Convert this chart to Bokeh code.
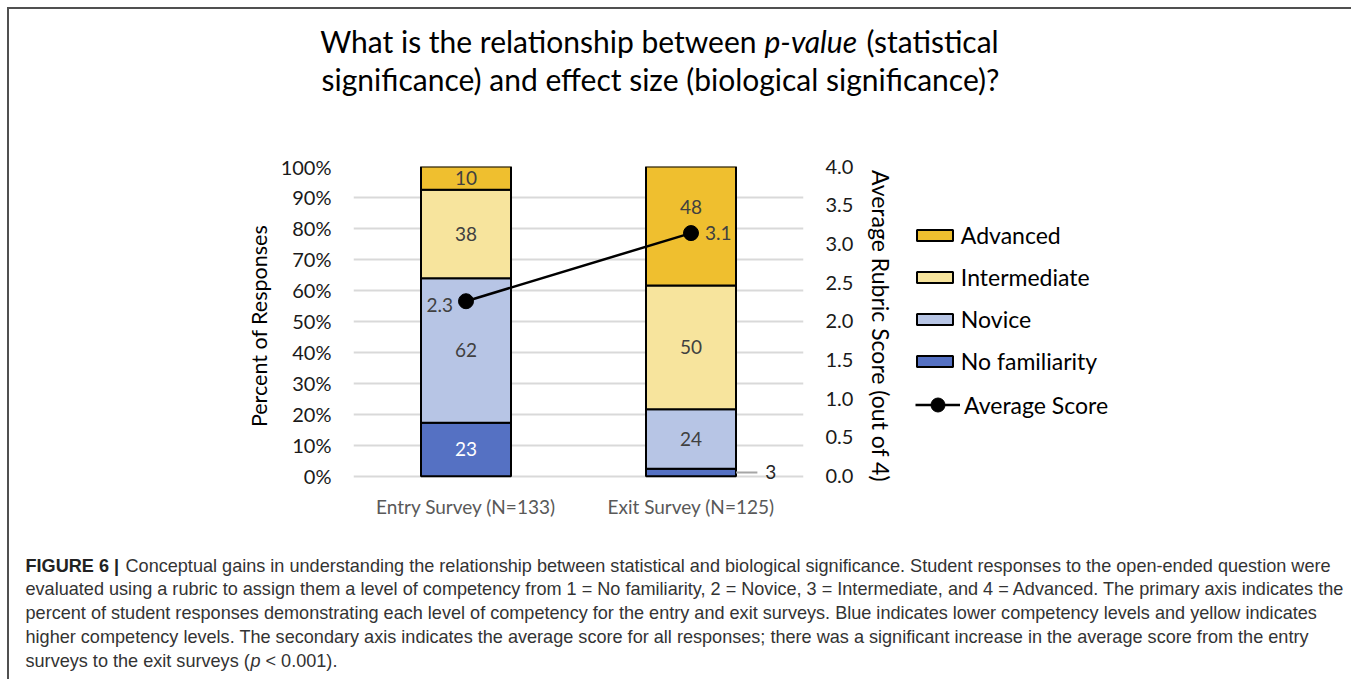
from bokeh.plotting import figure
from bokeh.models import (ColumnDataSource, Range1d, LinearAxis, FixedTicker,
                          NumeralTickFormatter, PrintfTickFormatter, Legend,
                          LegendItem, Label)
from bokeh.embed import file_html
from bokeh.resources import INLINE
from bokeh.core.properties import value

# ---------------- data ----------------
groups = ["Entry Survey (N=133)", "Exit Survey (N=125)"]
levels = ["No familiarity", "Novice", "Intermediate", "Advanced"]
no_familiarity = [23, 3]
novice = [62, 24]
intermediate = [38, 50]
advanced = [10, 48]
avg_score = [2.26, 3.14]
avg_labels = ["2.3", "3.1"]
pct_ticks = [0.0, 0.1, 0.2, 0.3, 0.4, 0.5, 0.6, 0.7, 0.8, 0.9, 1.0]
score_ticks = [0.0, 0.5, 1.0, 1.5, 2.0, 2.5, 3.0, 3.5, 4.0]

title_line1 = ["What is the relationship between", "p-value", "(statistical"]
title_line2 = "significance) and effect size (biological significance)?"
caption_bold = "FIGURE 6 |"
caption_lines = [
    "Conceptual gains in understanding the relationship between statistical and biological significance. Student responses to the open-ended question were",
    "evaluated using a rubric to assign them a level of competency from 1 = No familiarity, 2 = Novice, 3 = Intermediate, and 4 = Advanced. The primary axis indicates the",
    "percent of student responses demonstrating each level of competency for the entry and exit surveys. Blue indicates lower competency levels and yellow indicates",
    "higher competency levels. The secondary axis indicates the average score for all responses; there was a significant increase in the average score from the entry",
]
caption_last = ["surveys to the exit surveys (", "p", "< 0.001)."]

colors = {"No familiarity": "#5571C3", "Novice": "#B7C5E5",
          "Intermediate": "#F7E49D", "Advanced": "#EFBF2F"}

# ---------------- layout constants ----------------
FONT = "Lato"
CAP_FONT = "Liberation Sans"
W = 1344
ORG = 9                      # page offset of canvases (margin + border)
H_TITLE, H_MAIN, H_CAP = 111, 410, 151
FRAME_W = 450
PAD = 0.03                   # small room under 0% so outside labels are not clipped
FRAME_H = round(310 * (1 + PAD))
MAIN_TOP = ORG + H_TITLE
FRAME_TOP = 168
FRAME_BOTTOM = FRAME_TOP + FRAME_H   # page y of the frame bottom
BORDER = "2px solid #505050"


def base_fig(h):
    f = figure(width=W, height=h, x_range=Range1d(0, W), y_range=Range1d(0, h),
               x_axis_type=None, y_axis_type=None, min_border=0,
               output_backend="svg", toolbar_location=None)
    f.outline_line_color = None
    f.xgrid.visible = False
    f.ygrid.visible = False
    return f


# ---------------- title figure ----------------
tf = base_fig(H_TITLE)
tf.styles = {"margin-left": "7px", "margin-top": "7px",
             "border-top": BORDER, "border-left": BORDER}


def tpos(px, py):
    return px - ORG, H_TITLE - (py - ORG)


TS = "30px"
for txt, px, align, style in [(title_line1[0], 756, "right", "normal"),
                              (title_line1[1], 764, "left", "italic"),
                              (title_line1[2], 866, "left", "normal")]:
    x, y = tpos(px, 40)
    tf.add_layout(Label(x=x, y=y, text=txt, text_align=align, text_baseline="middle",
                        text_font=FONT, text_font_size=TS, text_font_style=style,
                        text_color="black"))
x, y = tpos(660, 78)
tf.add_layout(Label(x=x, y=y, text=title_line2, text_align="center",
                    text_baseline="middle", text_font=FONT, text_font_size=TS,
                    text_color="black"))

# ---------------- main chart ----------------
counts = {"No familiarity": no_familiarity, "Novice": novice,
          "Intermediate": intermediate, "Advanced": advanced}
totals = [sum(v) for v in zip(*[counts[l] for l in levels])]
xs = [i + 0.5 for i in range(len(groups))]
frac = {l: [c / t for c, t in zip(counts[l], totals)] for l in levels}
src = ColumnDataSource(dict(x=xs, **frac))

p = figure(frame_width=FRAME_W, frame_height=FRAME_H,
           x_range=Range1d(0, 2), y_range=Range1d(-PAD, 1),
           min_border_left=344, min_border_right=W - 344 - FRAME_W,
           min_border_top=FRAME_TOP - MAIN_TOP,
           min_border_bottom=H_MAIN - (FRAME_TOP - MAIN_TOP) - FRAME_H,
           output_backend="svg", toolbar_location=None)
p.styles = {"margin-left": "7px", "border-left": BORDER}
p.outline_line_color = None
p.extra_y_ranges = {"score": Range1d(-PAD * 4, 4)}

p.xgrid.visible = False
p.ygrid.ticker = FixedTicker(ticks=pct_ticks)
p.ygrid.grid_line_color = "#d9d9d9"
p.ygrid.grid_line_width = 2

BAR_W = 0.4
rs = p.vbar_stack(levels, x="x", width=BAR_W, source=src,
                  fill_color=[colors[l] for l in levels],
                  line_color="black", line_width=2)

score_on_pct = [s / 4 for s in avg_score]

lx, ly, lt, lc = [], [], [], []
ox, oy, ot = [], [], []
for gi, x in enumerate(xs):
    base = 0.0
    for l in levels:
        f = frac[l][gi]
        mid = base + f / 2
        if f < 0.05:
            ox.append(x); oy.append(mid); ot.append(str(counts[l][gi]))
        else:
            if abs(mid - score_on_pct[gi]) < 0.05:
                mid = score_on_pct[gi] + 0.085
            lx.append(x); ly.append(mid); lt.append(str(counts[l][gi]))
            lc.append("white" if l == "No familiarity" else "#404040")
        base += f
p.text(x=lx, y=ly, text=lt, text_color=lc, text_align="center",
       text_baseline="middle", text_font=value(FONT), text_font_size="19px")
p.segment(x0=[x + BAR_W / 2 for x in ox], y0=oy,
          x1=[x + BAR_W / 2 + 0.095 for x in ox], y1=oy,
          line_color="#a6a6a6", line_width=2)
p.text(x=[x + BAR_W / 2 + 0.13 for x in ox], y=oy, text=ot, text_color="#262626",
       text_align="left", text_baseline="middle", text_font=value(FONT),
       text_font_size="19px")

lr = p.line(xs, avg_score, y_range_name="score", line_color="black", line_width=2.5)
sr = p.scatter(xs, avg_score, y_range_name="score", size=15, color="black")
p.text(x=xs[:1], y=avg_score[:1], text=avg_labels[:1], y_range_name="score",
       x_offset=-13, y_offset=4, text_align="right", text_baseline="middle",
       text_font=value(FONT), text_font_size="19px", text_color="#404040")
p.text(x=xs[1:], y=avg_score[1:], text=avg_labels[1:], y_range_name="score",
       x_offset=14, text_align="left", text_baseline="middle",
       text_font=value(FONT), text_font_size="19px", text_color="#404040")

ya = p.yaxis[0]
ya.ticker = FixedTicker(ticks=pct_ticks)
ya.formatter = NumeralTickFormatter(format="0%")
ya.axis_label = "Percent of Responses"

ra = LinearAxis(y_range_name="score", ticker=FixedTicker(ticks=score_ticks),
                formatter=PrintfTickFormatter(format="%.1f"),
                axis_label="Average Rubric Score (out of 4)")
p.add_layout(ra, "right")

xa = p.xaxis[0]
xa.ticker = FixedTicker(ticks=xs)
xa.major_label_overrides = {x: g for x, g in zip(xs, groups)}
xa.major_label_text_color = "#595959"
xa.major_label_text_font_size = "19px"
xa.major_label_standoff = 9

for ax in (ya, ra, xa):
    ax.axis_line_color = None
    ax.major_tick_line_color = None
    ax.minor_tick_line_color = None
    ax.major_tick_out = 0
    ax.major_tick_in = 0
    ax.major_label_text_font = FONT
    ax.axis_label_text_font = FONT
    ax.axis_label_text_font_style = "normal"
    ax.axis_label_text_color = "black"
for ax in (ya, ra):
    ax.major_label_text_font_size = "20px"
    ax.major_label_text_color = "#1a1a1a"
    ax.major_label_standoff = 22
ya.axis_label_text_font_size = "21.5px"
ra.axis_label_text_font_size = "23px"
ya.axis_label_standoff = 6
ra.axis_label_standoff = 11

# legends live in the right side panel (after the right axis); their x offsets
# are measured from where the side panel places them
LEG_X = 916                  # page x of the legend glyphs
PANEL_A_LEFT = 1206
PANEL_B_LEFT = 1692
items_a = [LegendItem(label=l, renderers=[r]) for l, r in reversed(list(zip(levels, rs)))]
leg_a = Legend(items=items_a, location=(LEG_X - PANEL_A_LEFT, FRAME_BOTTOM - 377),
               orientation="vertical", glyph_width=45, glyph_height=14,
               label_height=28, spacing=14, padding=0, margin=0,
               border_line_color=None, background_fill_alpha=0,
               label_text_font=FONT, label_text_font_size="23px",
               label_standoff=4, label_text_color="black")
p.add_layout(leg_a, "right")

leg_b = Legend(items=[LegendItem(label="Average Score", renderers=[lr, sr])],
               location=(LEG_X - PANEL_B_LEFT, FRAME_BOTTOM - 424),
               orientation="vertical", glyph_width=45, glyph_height=35,
               label_height=35, padding=0, margin=0,
               border_line_color=None, background_fill_alpha=0,
               label_text_font=FONT, label_text_font_size="23px",
               label_standoff=4, label_text_color="black")
p.add_layout(leg_b, "right")

# ---------------- caption figure ----------------
cf = base_fig(H_CAP)
cf.styles = {"margin-left": "7px", "border-left": BORDER}
CAP_TOP = ORG + H_TITLE + H_MAIN


def cpos(px, py):
    return px - ORG, H_CAP - (py - CAP_TOP)


CS = "18.1px"
CC = "#333333"
cap_y = [567 + 23.8 * i for i in range(5)]
x, y = cpos(25, cap_y[0])
cf.add_layout(Label(x=x, y=y, text=caption_bold, text_align="left",
                    text_baseline="middle", text_font=CAP_FONT, text_font_size=CS,
                    text_font_style="bold", text_color="#222222"))
for i, line in enumerate(caption_lines):
    x, y = cpos(125 if i == 0 else 25, cap_y[i])
    cf.add_layout(Label(x=x, y=y, text=line, text_align="left",
                        text_baseline="middle", text_font=CAP_FONT,
                        text_font_size=CS, text_color=CC))
for txt, px, style in [(caption_last[0], 25, "normal"), (caption_last[1], 250, "italic"),
                       (caption_last[2], 265, "normal")]:
    x, y = cpos(px, cap_y[4])
    cf.add_layout(Label(x=x, y=y, text=txt, text_align="left",
                        text_baseline="middle", text_font=CAP_FONT,
                        text_font_size=CS, text_font_style=style, text_color=CC))

open("out.html", "w").write(file_html([tf, p, cf], INLINE))
